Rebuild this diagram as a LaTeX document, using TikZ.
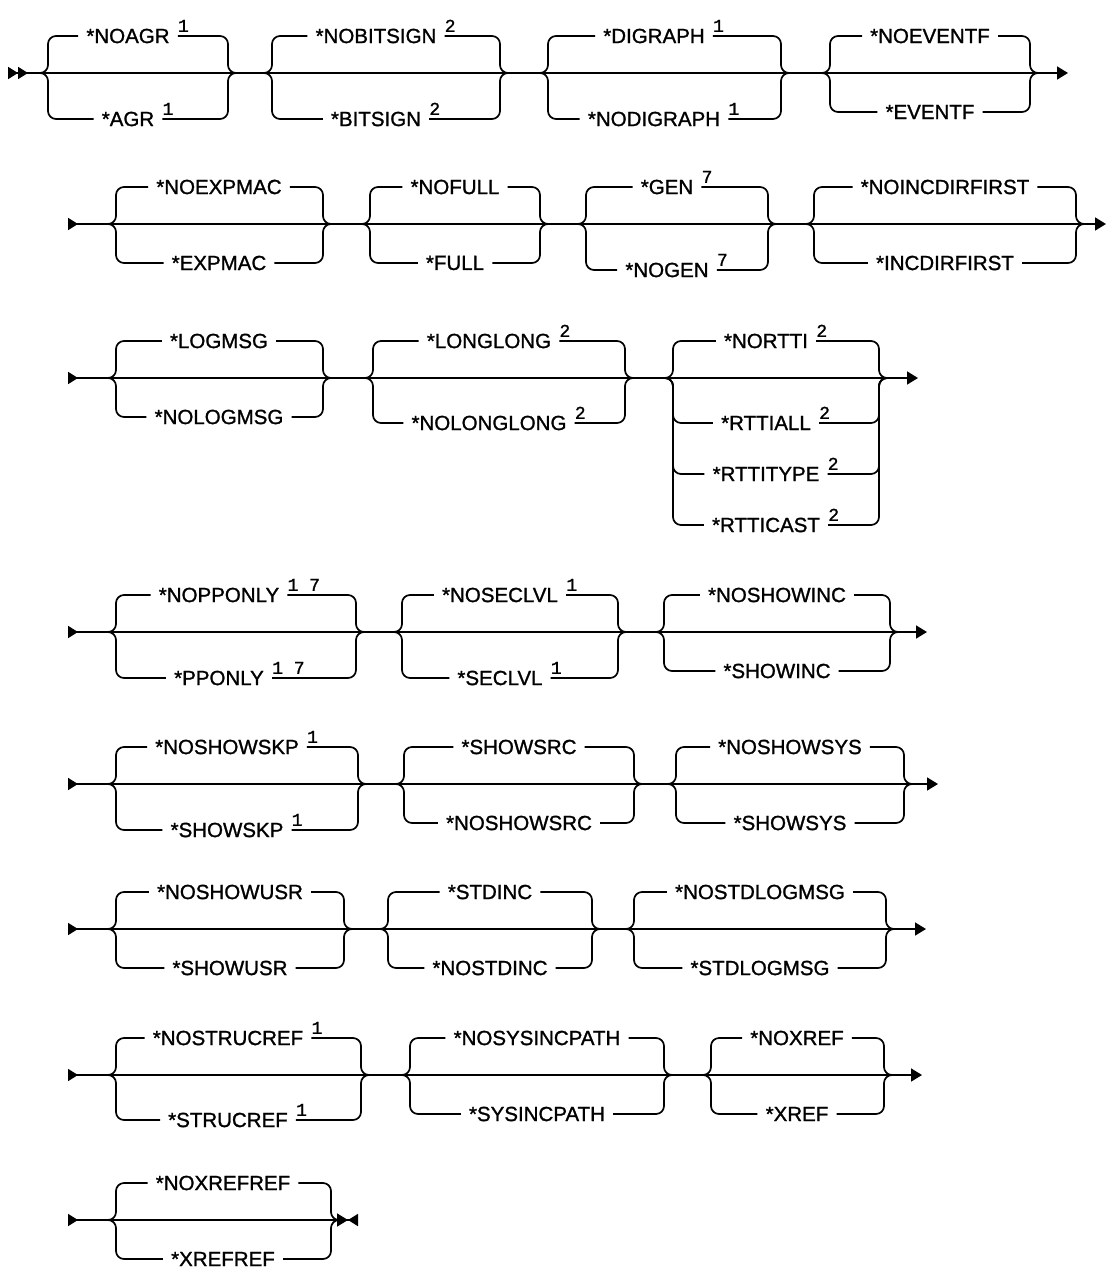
\documentclass[tikz,border=0pt]{standalone}
\usepackage{fontspec}
\setmainfont{Liberation Sans}
\newfontfamily\kwfont{Liberation Sans}[FakeBold=1.2]
\newfontfamily\notefont{Liberation Mono}[FakeBold=1.2]
\usetikzlibrary{positioning,arrows.meta}

% one branch of a choice: left x, right x, main line y, option node
\newcommand\railbranch[4]{%
  \coordinate (bl) at (#1,#3);
  \coordinate (br) at (#2,#3);
  \draw[rail] ([xshift=-8pt]bl) -| (bl |- #4.west) -- (#4.west);
  \draw[rail] (#4.east) -- (br |- #4.east) |- ([xshift=8pt]br);
}

\begin{document}
\begin{tikzpicture}[x=1pt, y=-1pt,
    rail/.style={line width=1.7pt, rounded corners=8pt},
    kw/.style={font=\kwfont\fontsize{20.5}{24}\selectfont, inner xsep=8pt, inner ysep=2pt},
    fnote/.style={font=\notefont\fontsize{18}{20}\selectfont, inner sep=0pt},
    intip/.tip={Triangle[reversed, length=10pt, width=12pt]},
    outtip/.tip={Triangle[length=11pt, width=13pt]},
  ]
  \useasboundingbox (0,0) rectangle (1109,1268);

  % row 1
  \node[kw] (noagr) at (128,36) {*NOAGR};
  \node[fnote, above right=4pt and 0pt of noagr.east] (noagr-n) {1};
  \node[kw] (agr) at (128,119) {*AGR};
  \node[fnote, above right=4pt and 0pt of agr.east] (agr-n) {1};
  \node[kw] (nobitsign) at (376,36) {*NOBITSIGN};
  \node[fnote, above right=4pt and 0pt of nobitsign.east] (nobitsign-n) {2};
  \node[kw] (bitsign) at (376,119) {*BITSIGN};
  \node[fnote, above right=4pt and 0pt of bitsign.east] (bitsign-n) {2};
  \node[kw] (digraph) at (654,36) {*DIGRAPH};
  \node[fnote, above right=4pt and 0pt of digraph.east] (digraph-n) {1};
  \node[kw] (nodigraph) at (654,119) {*NODIGRAPH};
  \node[fnote, above right=4pt and 0pt of nodigraph.east] (nodigraph-n) {1};
  \node[kw] (noeventf) at (930,36) {*NOEVENTF};
  \node[kw] (eventf) at (930,112) {*EVENTF};
  \coordinate (r1s) at (8,73);
  \coordinate (r1e) at (1068,73);
  \draw[rail, {intip[]intip[]}-outtip] (r1s) -- (r1e);
  \railbranch{48}{228}{73}{noagr}
  \railbranch{48}{228}{73}{agr}
  \railbranch{272}{500}{73}{nobitsign}
  \railbranch{272}{500}{73}{bitsign}
  \railbranch{548}{781}{73}{digraph}
  \railbranch{548}{781}{73}{nodigraph}
  \railbranch{830}{1030}{73}{noeventf}
  \railbranch{830}{1030}{73}{eventf}

  % row 2
  \node[kw] (noexpmac) at (219,187) {*NOEXPMAC};
  \node[kw] (expmac) at (219,263) {*EXPMAC};
  \node[kw] (nofull) at (455,187) {*NOFULL};
  \node[kw] (full) at (455,263) {*FULL};
  \node[kw] (gen) at (667,187) {*GEN};
  \node[fnote, above right=4pt and 0pt of gen.east] (gen-n) {7};
  \node[kw] (nogen) at (667,270) {*NOGEN};
  \node[fnote, above right=4pt and 0pt of nogen.east] (nogen-n) {7};
  \node[kw] (noincdirfirst) at (945,187) {*NOINCDIRFIRST};
  \node[kw] (incdirfirst) at (945,263) {*INCDIRFIRST};
  \coordinate (r2s) at (68,224);
  \coordinate (r2e) at (1106,224);
  \draw[rail, intip-outtip] (r2s) -- (r2e);
  \railbranch{116}{323}{224}{noexpmac}
  \railbranch{116}{323}{224}{expmac}
  \railbranch{370}{540}{224}{nofull}
  \railbranch{370}{540}{224}{full}
  \railbranch{586}{768}{224}{gen}
  \railbranch{586}{768}{224}{nogen}
  \railbranch{814}{1076}{224}{noincdirfirst}
  \railbranch{814}{1076}{224}{incdirfirst}

  % row 3
  \node[kw] (logmsg) at (219,341) {*LOGMSG};
  \node[kw] (nologmsg) at (219,417) {*NOLOGMSG};
  \node[kw] (longlong) at (489,341) {*LONGLONG};
  \node[fnote, above right=4pt and 0pt of longlong.east] (longlong-n) {2};
  \node[kw] (nolonglong) at (489,423) {*NOLONGLONG};
  \node[fnote, above right=4pt and 0pt of nolonglong.east] (nolonglong-n) {2};
  \node[kw] (nortti) at (766,341) {*NORTTI};
  \node[fnote, above right=4pt and 0pt of nortti.east] (nortti-n) {2};
  \node[kw] (rttiall) at (766,423) {*RTTIALL};
  \node[fnote, above right=4pt and 0pt of rttiall.east] (rttiall-n) {2};
  \node[kw] (rttitype) at (766,474) {*RTTITYPE};
  \node[fnote, above right=4pt and 0pt of rttitype.east] (rttitype-n) {2};
  \node[kw] (rtticast) at (766,525) {*RTTICAST};
  \node[fnote, above right=4pt and 0pt of rtticast.east] (rtticast-n) {2};
  \coordinate (r3s) at (68,378);
  \coordinate (r3e) at (918,378);
  \draw[rail, intip-outtip] (r3s) -- (r3e);
  \railbranch{116}{323}{378}{logmsg}
  \railbranch{116}{323}{378}{nologmsg}
  \railbranch{373}{625}{378}{longlong}
  \railbranch{373}{625}{378}{nolonglong}
  \railbranch{673}{879}{378}{nortti}
  \railbranch{673}{879}{378}{rttiall}
  \railbranch{673}{879}{378}{rttitype}
  \railbranch{673}{879}{378}{rtticast}

  % row 4
  \node[kw] (nopponly) at (219,595) {*NOPPONLY};
  \node[fnote, above right=4pt and 0pt of nopponly.east] (nopponly-n) {1 7};
  \node[kw] (pponly) at (219,678) {*PPONLY};
  \node[fnote, above right=4pt and 0pt of pponly.east] (pponly-n) {1 7};
  \node[kw] (noseclvl) at (500,595) {*NOSECLVL};
  \node[fnote, above right=4pt and 0pt of noseclvl.east] (noseclvl-n) {1};
  \node[kw] (seclvl) at (500,678) {*SECLVL};
  \node[fnote, above right=4pt and 0pt of seclvl.east] (seclvl-n) {1};
  \node[kw] (noshowinc) at (777,595) {*NOSHOWINC};
  \node[kw] (showinc) at (777,671) {*SHOWINC};
  \coordinate (r4s) at (68,632);
  \coordinate (r4e) at (927,632);
  \draw[rail, intip-outtip] (r4s) -- (r4e);
  \railbranch{116}{356}{632}{nopponly}
  \railbranch{116}{356}{632}{pponly}
  \railbranch{402}{618}{632}{noseclvl}
  \railbranch{402}{618}{632}{seclvl}
  \railbranch{664}{890}{632}{noshowinc}
  \railbranch{664}{890}{632}{showinc}

  % row 5
  \node[kw] (noshowskp) at (227,747) {*NOSHOWSKP};
  \node[fnote, above right=4pt and 0pt of noshowskp.east] (noshowskp-n) {1};
  \node[kw] (showskp) at (227,830) {*SHOWSKP};
  \node[fnote, above right=4pt and 0pt of showskp.east] (showskp-n) {1};
  \node[kw] (showsrc) at (519,747) {*SHOWSRC};
  \node[kw] (noshowsrc) at (519,823) {*NOSHOWSRC};
  \node[kw] (noshowsys) at (790,747) {*NOSHOWSYS};
  \node[kw] (showsys) at (790,823) {*SHOWSYS};
  \coordinate (r5s) at (68,784);
  \coordinate (r5e) at (938,784);
  \draw[rail, intip-outtip] (r5s) -- (r5e);
  \railbranch{116}{358}{784}{noshowskp}
  \railbranch{116}{358}{784}{showskp}
  \railbranch{404}{634}{784}{showsrc}
  \railbranch{404}{634}{784}{noshowsrc}
  \railbranch{676}{904}{784}{noshowsys}
  \railbranch{676}{904}{784}{showsys}

  % row 6
  \node[kw] (noshowusr) at (230,892) {*NOSHOWUSR};
  \node[kw] (showusr) at (230,968) {*SHOWUSR};
  \node[kw] (stdinc) at (490,892) {*STDINC};
  \node[kw] (nostdinc) at (490,968) {*NOSTDINC};
  \node[kw] (nostdlogmsg) at (760,892) {*NOSTDLOGMSG};
  \node[kw] (stdlogmsg) at (760,968) {*STDLOGMSG};
  \coordinate (r6s) at (68,929);
  \coordinate (r6e) at (926,929);
  \draw[rail, intip-outtip] (r6s) -- (r6e);
  \railbranch{116}{344}{929}{noshowusr}
  \railbranch{116}{344}{929}{showusr}
  \railbranch{388}{592}{929}{stdinc}
  \railbranch{388}{592}{929}{nostdinc}
  \railbranch{634}{886}{929}{nostdlogmsg}
  \railbranch{634}{886}{929}{stdlogmsg}

  % row 7
  \node[kw] (nostrucref) at (228,1038) {*NOSTRUCREF};
  \node[fnote, above right=4pt and 0pt of nostrucref.east] (nostrucref-n) {1};
  \node[kw] (strucref) at (228,1120) {*STRUCREF};
  \node[fnote, above right=4pt and 0pt of strucref.east] (strucref-n) {1};
  \node[kw] (nosysincpath) at (537,1038) {*NOSYSINCPATH};
  \node[kw] (sysincpath) at (537,1114) {*SYSINCPATH};
  \node[kw] (noxref) at (797,1038) {*NOXREF};
  \node[kw] (xref) at (797,1114) {*XREF};
  \coordinate (r7s) at (68,1075);
  \coordinate (r7e) at (922,1075);
  \draw[rail, intip-outtip] (r7s) -- (r7e);
  \railbranch{116}{361}{1075}{nostrucref}
  \railbranch{116}{361}{1075}{strucref}
  \railbranch{410}{664}{1075}{nosysincpath}
  \railbranch{410}{664}{1075}{sysincpath}
  \railbranch{711}{884}{1075}{noxref}
  \railbranch{711}{884}{1075}{xref}

  % row 8
  \node[kw] (noxrefref) at (223,1183) {*NOXREFREF};
  \node[kw] (xrefref) at (223,1259) {*XREFREF};
  \coordinate (r8s) at (68,1220);
  \coordinate (r8e) at (358,1220);
  \draw[rail, intip-{outtip[]intip[]}] (r8s) -- (r8e);
  \railbranch{116}{331}{1220}{noxrefref}
  \railbranch{116}{331}{1220}{xrefref}
\end{tikzpicture}
\end{document}
